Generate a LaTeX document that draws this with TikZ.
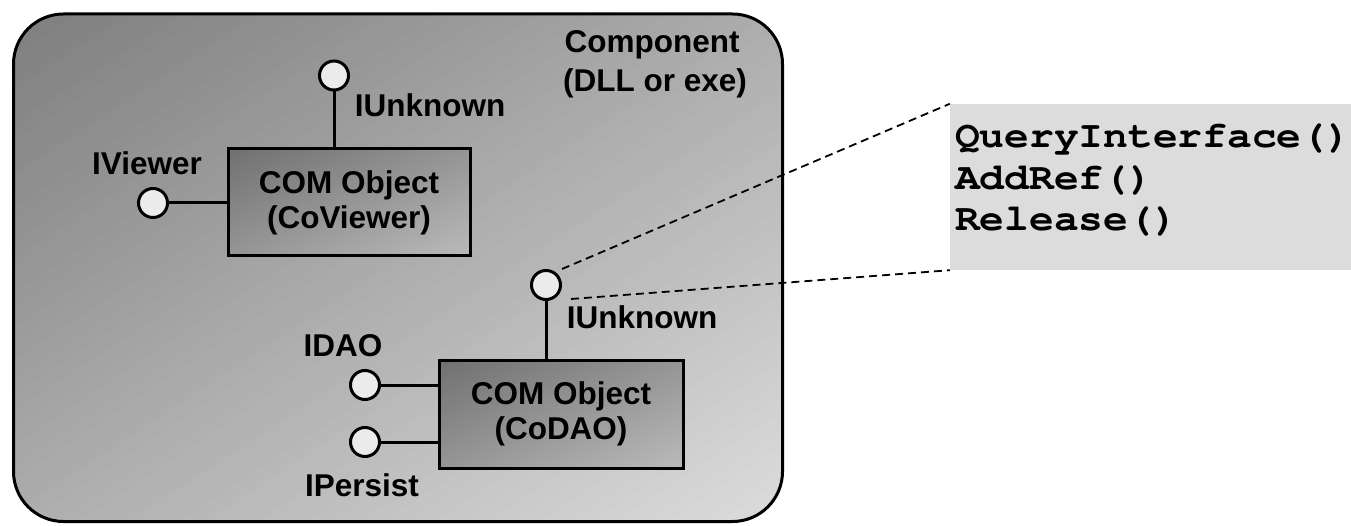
\documentclass[tikz,border=0pt]{standalone}
\usepackage{fontspec}
\setmainfont{Liberation Sans}
\newfontfamily\codefont{TeX Gyre Cursor}
\usetikzlibrary{calc}
\definecolor{outerdark}{HTML}{7E7E7E}
\definecolor{outerlight}{HTML}{DCDCDC}
\definecolor{boxdark}{HTML}{707070}
\definecolor{boxlight}{HTML}{BABABA}
\definecolor{ifill}{HTML}{EBEBEB}
\definecolor{codebg}{HTML}{DCDCDC}
% diagonal gradient (top-left -> bottom-right) in normalised box coordinates
\newcommand{\diagstripes}[2]{%
  \foreach \i in {0,...,60}{%
    \pgfmathsetmacro\pc{100-\i*100/60}%
    \pgfmathsetmacro\ts{(2*\i-1)/60}%
    \fill[color=#1!\pc!#2] (\ts+5,-5) -- (\ts-5,5) -- (\ts/2+20,\ts/2+20) -- cycle;
  }%
}
\newcommand{\codetext}[1]{\scalebox{1.1}[1]{#1}}
\begin{document}
\begin{tikzpicture}[x=1pt,y=-1pt,
  lbl/.style={font=\bfseries\fontsize{31.5}{35}\selectfont, inner sep=0, anchor=base},
  comobj/.style={draw, line width=3pt, minimum width=242pt, minimum height=107pt, inner sep=0,
    align=center, font=\bfseries\fontsize{31.5}{35}\selectfont},
  iface/.style={circle, draw, line width=3pt, fill=ifill, minimum size=29pt, inner sep=0},
  wire/.style={line width=3pt},
  zoomline/.style={line width=1.8pt, dash pattern=on 8pt off 5pt},
  code/.style={font=\codefont\bfseries\fontsize{37.5}{41}\selectfont, anchor=base west, inner sep=0}]
\useasboundingbox (0,0) rectangle (1351,526);
% component container: gradient fill
\begin{scope}
  \clip[rounded corners=50pt] (13.5,14) rectangle (782.5,521.5);
  \begin{scope}[shift={(13.5,14)}, x={(769pt,0pt)}, y={(0pt,-507.5pt)}]
    \diagstripes{outerdark}{outerlight}
  \end{scope}
\end{scope}
\node[draw, line width=3pt, rounded corners=50pt, minimum width=769pt, minimum height=507.5pt] (comp) at (398,267.75) {};
\node[lbl] (comptitle) at (652,53) {Component};
\node[lbl] (compsub) at (655,92) {(DLL or exe)};
% code box
\node[fill=codebg, minimum width=401pt, minimum height=166pt, inner sep=0] (mbox) at (1150.5,187) {};
\node[code] (qi) at (955,148) {\codetext{QueryInterface()}};
\node[code] (ar) at (955,190) {\codetext{AddRef()}};
\node[code] (rl) at (955,231) {\codetext{Release()}};
% object boxes: gradient fills
\begin{scope}
  \clip (228,149) rectangle (470,256);
  \begin{scope}[shift={(228,149)}, x={(242pt,0pt)}, y={(0pt,-107pt)}]
    \diagstripes{boxdark}{boxlight}
  \end{scope}
\end{scope}
\begin{scope}
  \clip (439,360) rectangle (683,468);
  \begin{scope}[shift={(439,360)}, x={(244pt,0pt)}, y={(0pt,-108pt)}]
    \diagstripes{boxdark}{boxlight}
  \end{scope}
\end{scope}
\node[comobj] (coviewer) at (349,202.5) {COM Object\\(CoViewer)};
\node[comobj, minimum width=244pt, minimum height=108pt] (codao) at (561,414) {COM Object\\(CoDAO)};
% interfaces
\node[iface] (iu1) at (334,75.5) {};
\node[iface] (iv) at (153,203) {};
\node[iface] (iu2) at (546,285) {};
\node[iface] (idao) at (365,385) {};
\node[iface] (ipers) at (365,442) {};
\draw[wire] (iu1) -- (iu1 |- coviewer.north);
\draw[wire] (iv) -- (iv -| coviewer.west);
\draw[wire] (iu2) -- (iu2 |- codao.north);
\draw[wire] (idao) -- (idao -| codao.west);
\draw[wire] (ipers) -- (ipers -| codao.west);
% labels
\node[lbl] (liu1) at (430,117) {IUnknown};
\node[lbl] (liv) at (147,175) {IViewer};
\node[lbl] (liu2) at (642,329) {IUnknown};
\node[lbl] (lidao) at (343,356) {IDAO};
\node[lbl] (lpers) at (362,496) {IPersist};
% zoom lines
\coordinate (z1) at (562,269);
\coordinate (z2) at (571,299);
\draw[zoomline] (z1) -- (mbox.north west);
\draw[zoomline] (z2) -- (mbox.south west);
\end{tikzpicture}
\end{document}
